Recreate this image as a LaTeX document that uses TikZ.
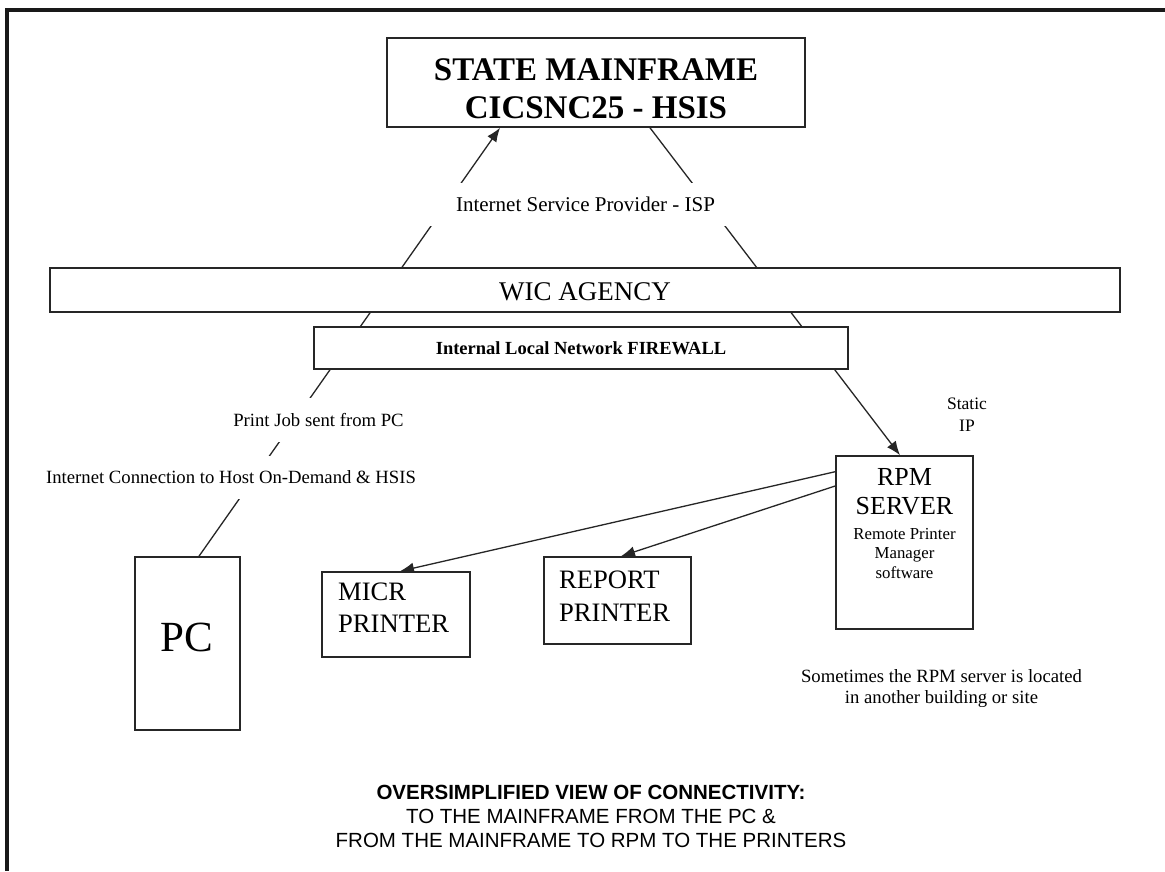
\documentclass[tikz,border=0pt]{standalone}
\usepackage{fontspec}
\setmainfont{Liberation Serif}
\newfontfamily\arialf{Liberation Sans}
\usetikzlibrary{arrows.meta,backgrounds}
\newcommand\myfs[2]{\fontsize{#1}{#2}\selectfont}
\begin{document}
\begin{tikzpicture}[x=1pt,y=-1pt,
  box/.style={draw=black!85,line width=1.6pt,fill=white,inner sep=0pt},
  conn/.style={line width=1.3pt,draw=black!85},
  tip/.style={-{Latex[length=14pt,width=11pt]}},
  lbl/.style={fill=white,inner sep=0pt,font=\myfs{18.7}{21}},
  txt/.style={inner sep=0pt}]
\useasboundingbox (0,0) rectangle (1165,871);

% boxes
\node[box,minimum width=418,minimum height=89] (mf) at (596,82.5) {};
\node[txt,anchor=north,align=center,font=\bfseries\myfs{33}{38}] (mft) at (596,58) {STATE MAINFRAME\\CICSNC25 - HSIS};

\node[box,minimum width=1070,minimum height=44] (wic) at (585,290) {};
\node[txt,font=\myfs{27}{30}] (wict) at (585,292) {WIC AGENCY};

\node[box,minimum width=534,minimum height=42,font=\bfseries\myfs{18.5}{21}] (fw) at (581,348) {Internal Local Network FIREWALL};

\node[box,minimum width=105,minimum height=173] (pc) at (187.5,643.5) {};
\node[txt,font=\myfs{43}{48}] (pct) at (186.5,637) {PC};

\node[box,minimum width=148,minimum height=85] (micr) at (396,614.5) {};
\node[txt,anchor=north west,align=left,font=\myfs{26.6}{32}] (micrt) at (338,583) {MICR\\PRINTER};

\node[box,minimum width=147,minimum height=87] (rep) at (617.5,600.5) {};
\node[txt,anchor=north west,align=left,font=\myfs{26.6}{32.5}] (rept) at (559,571) {REPORT\\PRINTER};

\node[box,minimum width=137,minimum height=173] (rpm) at (904.5,542.5) {};
\node[txt,anchor=north,align=center,font=\myfs{26}{29}] (rpmt) at (904.5,468) {RPM\\SERVER};
\node[txt,anchor=north,align=center,font=\myfs{16.8}{19.5}] (rpms) at (904.5,528) {Remote Printer\\Manager\\software};

% labels
\node[lbl,minimum width=312,minimum height=43,font=\myfs{21}{24}] (isp) at (585.5,204.5) {Internet Service Provider - ISP};
\node[lbl,minimum height=44,inner xsep=3pt] (pj) at (318.5,420) {Print Job sent from PC};
\node[lbl,minimum height=43,inner xsep=3pt] (ic) at (231,477.5) {Internet Connection to Host On-Demand \& HSIS};

\node[txt,align=center,font=\myfs{17.5}{22}] (sip) at (967,415) {Static\\IP};
\node[txt,align=center,font=\myfs{18.7}{21}] (note) at (941.5,688.5) {Sometimes the RPM server is located\\in another building or site};
\node[txt,align=center,font=\arialf\myfs{20.5}{24}] (cap) at (591,816) {\textbf{OVERSIMPLIFIED VIEW OF CONNECTIVITY:}\\TO THE MAINFRAME FROM THE PC \&\\FROM THE MAINFRAME TO RPM TO THE PRINTERS};

% connectors
\begin{scope}[on background layer]
\fill[white] (0,0) rectangle (1165,871);
\draw[conn,tip] ([xshift=11.5pt]pc.north) -- ([xshift=-96pt]mf.south);
\draw[conn,tip] ([xshift=54pt]mf.south) -- ([xshift=-4.5pt]rpm.north);
\draw[conn,tip] ([yshift=70.8pt]rpm.west) -- ([xshift=4pt]micr.north);
\draw[conn,tip] ([yshift=56.5pt]rpm.west) -- ([xshift=3.5pt]rep.north);
\end{scope}

% frame
\draw[line width=3.5pt,black!90] (1165,10) -- (7,10) -- (7,871);
\end{tikzpicture}
\end{document}
